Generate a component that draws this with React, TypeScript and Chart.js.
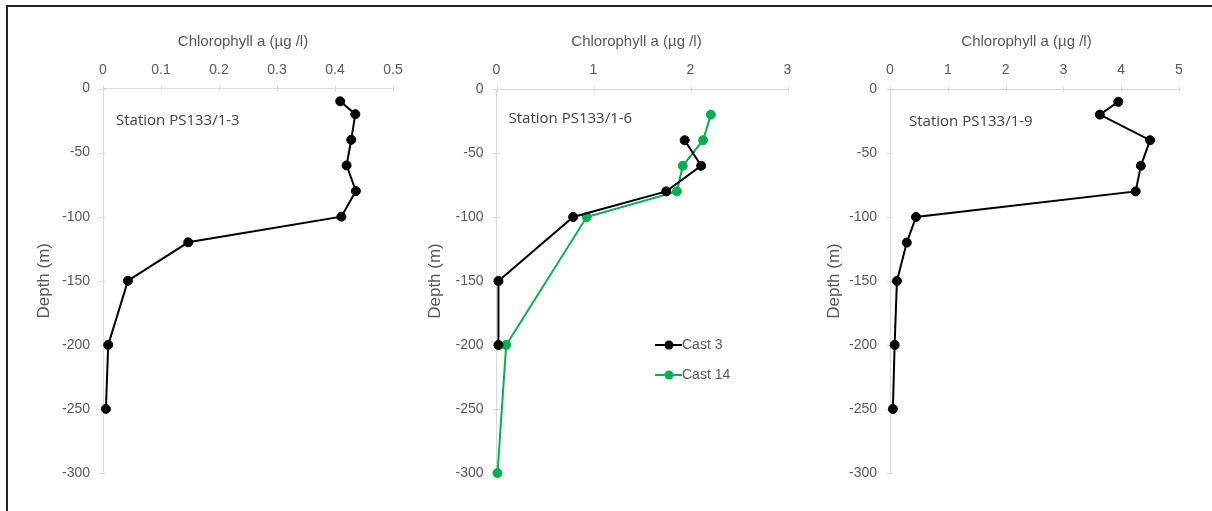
import { useEffect, useRef } from "react";
import { Chart, registerables } from "chart.js";

Chart.register(...registerables);

// Station PS133/1-3
const DEPTH_ST3 = [-10, -20, -40, -60, -80, -100, -120, -150, -200, -250];
const CHL_ST3 = [0.409, 0.435, 0.428, 0.42, 0.436, 0.411, 0.147, 0.043, 0.009, 0.005];

// Station PS133/1-6, two casts
const DEPTH_ST6_CAST3 = [-40, -60, -80, -100, -150, -200];
const CHL_ST6_CAST3 = [1.94, 2.11, 1.75, 0.79, 0.02, 0.02];
const DEPTH_ST6_CAST14 = [-20, -40, -60, -80, -100, -200, -300];
const CHL_ST6_CAST14 = [2.21, 2.13, 1.92, 1.86, 0.93, 0.1, 0.01];

// Station PS133/1-9
const DEPTH_ST9 = [-10, -20, -40, -60, -80, -100, -120, -150, -200, -250];
const CHL_ST9 = [3.95, 3.63, 4.5, 4.34, 4.25, 0.45, 0.29, 0.12, 0.08, 0.05];

const STATION_NAMES = ["Station PS133/1-3", "Station PS133/1-6", "Station PS133/1-9"];
const CAST_NAMES = ["Cast 3", "Cast 14"];
const X_TITLE = "Chlorophyll a (µg /l)";
const Y_TITLE = "Depth (m)";

const X_MAX = [0.5, 3, 5];
const X_STEP = [0.1, 1, 1];
const Y_MIN = -300;
const Y_STEP = 50;

const ARIAL = '"Liberation Sans", Arial, sans-serif';
const TEXT_GREY = "#595959";
const AXIS_GREY = "#d9d9d9";
const BLACK = "#000000";
const GREEN = "#00b050";

const toPoints = (xs: number[], ys: number[]) => xs.map((x, i) => ({ x, y: ys[i] }));

// Small cross-shaped tick marks along both axes
const crossTicks = {
  id: "crossTicks",
  beforeDatasetsDraw(chart: any) {
    const { ctx, chartArea, scales } = chart;
    ctx.save();
    ctx.strokeStyle = AXIS_GREY;
    ctx.lineWidth = 1;
    scales.x.ticks.forEach((_t: any, i: number) => {
      const px = Math.round(scales.x.getPixelForTick(i)) + 0.5;
      ctx.beginPath();
      ctx.moveTo(px, chartArea.top - 3);
      ctx.lineTo(px, chartArea.top + 3);
      ctx.stroke();
    });
    scales.y.ticks.forEach((_t: any, i: number) => {
      const py = Math.round(scales.y.getPixelForTick(i)) + 0.5;
      ctx.beginPath();
      ctx.moveTo(chartArea.left - 4, py);
      ctx.lineTo(chartArea.left + 3, py);
      ctx.stroke();
    });
    ctx.restore();
  },
};

// Horizontal axis title above the top axis
const topAxisTitle = {
  id: "topAxisTitle",
  afterDraw(chart: any, _args: any, opts: any) {
    if (!opts || !opts.text) return;
    const { ctx, chartArea } = chart;
    ctx.save();
    ctx.font = `15px ${ARIAL}`;
    ctx.fillStyle = TEXT_GREY;
    ctx.textAlign = "center";
    ctx.textBaseline = "middle";
    ctx.fillText(opts.text, (chartArea.left + chartArea.right) / 2 + opts.dx, opts.y);
    ctx.restore();
  },
};

// Station name written inside the plot area
const stationLabel = {
  id: "stationLabel",
  afterDatasetsDraw(chart: any, _args: any, opts: any) {
    if (!opts || !opts.text) return;
    const { ctx, chartArea } = chart;
    ctx.save();
    ctx.font = '15px "Open Sans", sans-serif';
    ctx.fillStyle = "#404040";
    ctx.textAlign = "left";
    ctx.textBaseline = "middle";
    ctx.fillText(opts.text, chartArea.left + opts.dx, chartArea.top + opts.dy);
    ctx.restore();
  },
};

// Legend placed inside the plot area, built from the dataset styles
const insetLegend = {
  id: "insetLegend",
  afterDatasetsDraw(chart: any, _args: any, opts: any) {
    if (!opts || !opts.show) return;
    const { ctx, chartArea } = chart;
    ctx.save();
    chart.data.datasets.forEach((ds: any, i: number) => {
      const x0 = chartArea.left + opts.dx;
      const y = chartArea.top + opts.dy + i * opts.spacing;
      ctx.strokeStyle = ds.borderColor;
      ctx.lineWidth = ds.borderWidth;
      ctx.beginPath();
      ctx.moveTo(x0, y);
      ctx.lineTo(x0 + 27, y);
      ctx.stroke();
      ctx.fillStyle = ds.pointBackgroundColor;
      ctx.beginPath();
      ctx.arc(x0 + 14, y, 4.5, 0, Math.PI * 2);
      ctx.fill();
      ctx.fillStyle = TEXT_GREY;
      ctx.font = `14px ${ARIAL}`;
      ctx.textAlign = "left";
      ctx.textBaseline = "middle";
      ctx.fillText(ds.label, x0 + 27, y);
    });
    ctx.restore();
  },
};

const profileDataset = (label: string, xs: number[], ys: number[], color: string) => ({
  label,
  data: toPoints(xs, ys),
  showLine: true,
  borderColor: color,
  borderWidth: 2,
  pointBackgroundColor: color,
  pointBorderColor: color,
  pointBorderWidth: 1,
  pointRadius: 4.5,
  clip: false as const,
});

type PanelSpec = {
  left: number;
  width: number;
  pad: { left: number; right: number; top: number; bottom: number };
  yWidth: number;
  xHeight: number;
  index: number;
  datasets: any[];
  label: { dx: number; dy: number };
  titleDx: number;
  legend?: { dx: number; dy: number; spacing: number };
};

const PANELS: PanelSpec[] = [
  {
    left: 0,
    width: 415,
    pad: { left: 30, right: 22, top: 20, bottom: 38 },
    yWidth: 73,
    xHeight: 68.5,
    index: 0,
    datasets: [profileDataset(STATION_NAMES[0], CHL_ST3, DEPTH_ST3, BLACK)],
    label: { dx: 13, dy: 32 },
    titleDx: -5,
  },
  {
    left: 405,
    width: 403,
    pad: { left: 16, right: 20.5, top: 20, bottom: 38 },
    yWidth: 75.5,
    xHeight: 69,
    index: 1,
    datasets: [
      profileDataset(CAST_NAMES[0], CHL_ST6_CAST3, DEPTH_ST6_CAST3, BLACK),
      profileDataset(CAST_NAMES[1], CHL_ST6_CAST14, DEPTH_ST6_CAST14, GREEN),
    ],
    label: { dx: 12, dy: 30 },
    titleDx: -5.5,
    legend: { dx: 158.5, dy: 256, spacing: 30 },
  },
  {
    left: 805,
    width: 407,
    pad: { left: 14.7, right: 33, top: 20, bottom: 38 },
    yWidth: 70.3,
    xHeight: 69,
    index: 2,
    datasets: [profileDataset(STATION_NAMES[2], CHL_ST9, DEPTH_ST9, BLACK)],
    label: { dx: 19, dy: 33 },
    titleDx: -8,
  },
];

function ProfileChart({ spec }: { spec: PanelSpec }) {
  const ref = useRef<HTMLCanvasElement>(null);

  useEffect(() => {
    if (!ref.current) return;
    const tickFont = { family: ARIAL, size: 14 };
    const chart = new Chart(ref.current, {
      type: "scatter",
      data: { datasets: spec.datasets },
      plugins: [crossTicks, topAxisTitle, stationLabel, insetLegend],
      options: {
        responsive: false,
        animation: false,
        layout: { padding: spec.pad },
        plugins: {
          legend: { display: false },
          tooltip: { enabled: false },
          topAxisTitle: { text: X_TITLE, dx: spec.titleDx, y: 42 },
          stationLabel: { text: STATION_NAMES[spec.index], ...spec.label },
          insetLegend: spec.legend ? { show: true, ...spec.legend } : { show: false },
        } as any,
        scales: {
          x: {
            type: "linear",
            position: "top",
            min: 0,
            max: X_MAX[spec.index],
            grid: { display: false, drawTicks: false, tickLength: 0 },
            border: { display: true, color: AXIS_GREY, width: 1 },
            ticks: {
              stepSize: X_STEP[spec.index],
              color: TEXT_GREY,
              font: tickFont,
              padding: 10,
              maxRotation: 0,
              autoSkip: false,
            },
            title: { display: false, text: X_TITLE },
            afterFit: (scale: any) => {
              scale.height = spec.xHeight;
            },
          },
          y: {
            type: "linear",
            min: Y_MIN,
            max: 0,
            grid: { display: false, drawTicks: false, tickLength: 0 },
            border: { display: true, color: AXIS_GREY, width: 1 },
            ticks: {
              stepSize: Y_STEP,
              color: TEXT_GREY,
              font: tickFont,
              padding: 13,
              autoSkip: false,
            },
            title: {
              display: true,
              text: Y_TITLE,
              color: TEXT_GREY,
              font: { family: ARIAL, size: 17 },
              padding: { top: 4, bottom: 0 },
            },
            afterFit: (scale: any) => {
              scale.width = spec.yWidth;
            },
          },
        },
      },
    });
    return () => chart.destroy();
  }, [spec]);

  return (
    <canvas
      ref={ref}
      width={spec.width}
      height={511}
      style={{ position: "absolute", left: spec.left, top: 0, width: spec.width, height: 511 }}
    />
  );
}

export default function App() {
  return (
    <div
      style={{
        position: "absolute",
        left: 0,
        top: 0,
        width: 1212,
        height: 511,
        background: "#ffffff",
        overflow: "hidden",
      }}
    >
      <div style={{ position: "absolute", left: 6, top: 5, width: 1206, height: 2, background: "#222" }} />
      <div style={{ position: "absolute", left: 6, top: 5, width: 2, height: 506, background: "#222" }} />
      {PANELS.map((p) => (
        <ProfileChart key={p.index} spec={p} />
      ))}
    </div>
  );
}
